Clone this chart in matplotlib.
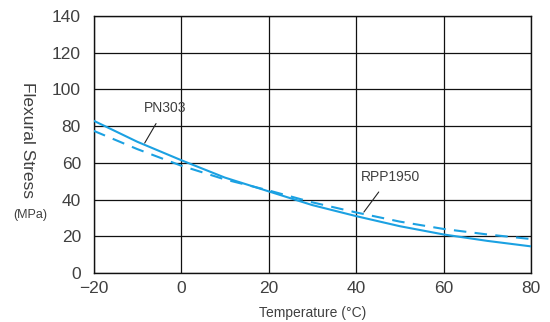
import matplotlib
matplotlib.use("Agg")
import matplotlib.pyplot as plt

temps = [-20, -10, 0, 10, 20, 30, 40, 50, 60, 70, 80]
pn303 = [83, 71.5, 61.5, 52, 44.5, 37, 31, 25.5, 21, 17.5, 14.5]
rpp1950 = [77.5, 67.5, 58.5, 51, 45, 38.5, 33, 28, 24, 21, 18.5]
xticks = [-20, 0, 20, 40, 60, 80]
xtick_labels = ["\u221220", "0", "20", "40", "60", "80"]
yticks = [0, 20, 40, 60, 80, 100, 120, 140]

plt.rcParams['font.family'] = ['Liberation Sans', 'DejaVu Sans']
blue = '#1ba1e2'
tc = '#404040'

W, H = 550, 322
fig = plt.figure(figsize=(5.5, 3.22), dpi=100)
ax = fig.add_axes([93.5 / W, 1 - 273 / H, (531 - 93.5) / W, (273 - 16) / H])

ax.plot(temps, pn303, color=blue, lw=1.5, solid_capstyle='butt', zorder=3)
ax.plot(temps, rpp1950, color=blue, lw=1.5, ls=(0, (6, 4)), zorder=3)

ax.set_xlim(-20, 80)
ax.set_ylim(0, 140)
ax.set_xticks(xticks)
ax.set_xticklabels(xtick_labels)
ax.set_yticks(yticks)
ax.grid(True, color='#111111', lw=0.9)
ax.tick_params(length=0, labelsize=12.5, labelcolor=tc)
ax.tick_params(axis='y', pad=9)
ax.tick_params(axis='x', pad=6)
for s in ax.spines.values():
    s.set_color('#111111')
    s.set_linewidth(1.0)

ax.annotate("PN303", xy=(-8.3, 70.8), xytext=(-3.6, 90), ha='center', va='center',
            fontsize=10, color=tc,
            arrowprops=dict(arrowstyle='-', color='#222222', lw=0.8, shrinkA=5, shrinkB=0))
ax.annotate("RPP1950", xy=(41.8, 33.2), xytext=(47.8, 52.5), ha='center', va='center',
            fontsize=10, color=tc,
            arrowprops=dict(arrowstyle='-', color='#222222', lw=0.8, shrinkA=5, shrinkB=0))

fig.text(27 / W, 1 - 140 / H, "Flexural Stress", rotation=-90, ha='center', va='center',
         fontsize=12.5, color=tc)
fig.text(30 / W, 1 - 215 / H, "(MPa)", ha='center', va='center', fontsize=9,
         color=tc)
fig.text(313 / W, 1 - 313 / H, "Temperature (\u00b0C)", ha='center', va='center',
         fontsize=10, color=tc)

fig.savefig("out.png", dpi=100)
